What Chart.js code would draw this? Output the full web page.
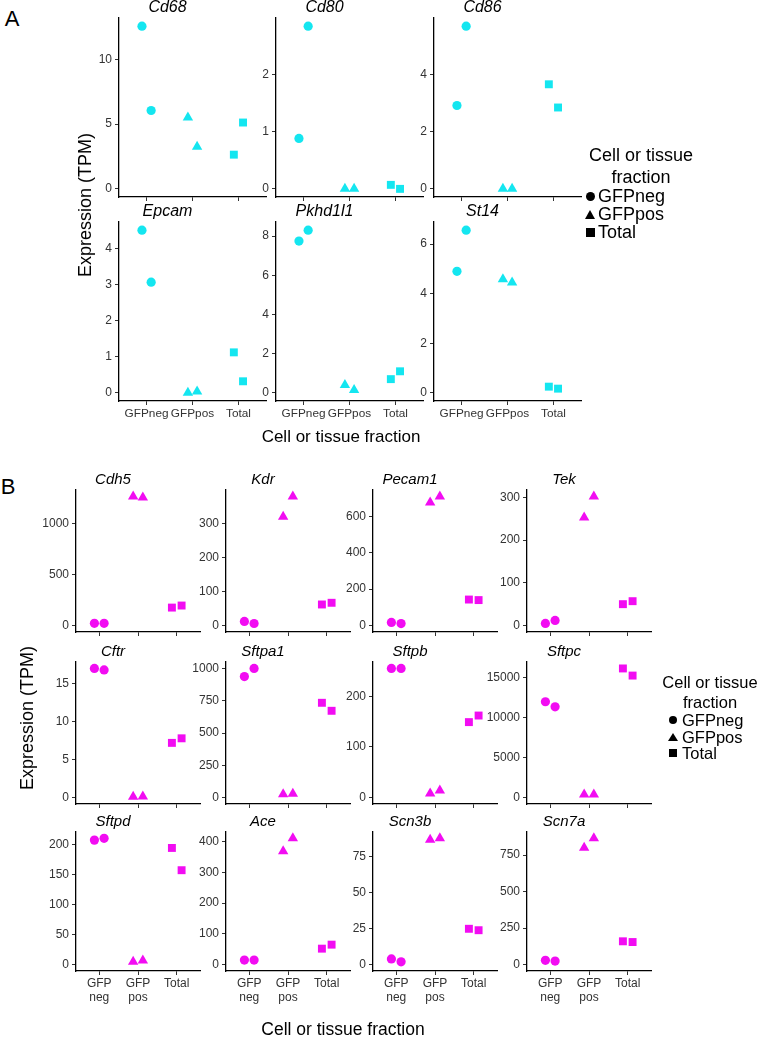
<!DOCTYPE html>
<html lang="en">
<head>
<meta charset="UTF-8" />
<title>Expression by cell or tissue fraction</title>
<script src="https://cdn.jsdelivr.net/npm/chart.js"></script>
<style>
  body { margin: 0; width: 758px; height: 1038px; position: relative; overflow: hidden; background: #fff;
         font-family: "Liberation Sans", Arial, Helvetica, sans-serif; color: #000; }
  canvas { position: absolute; }
  .t { position: absolute; white-space: nowrap; line-height: 1; }
  .sym { position: absolute; }
</style>
</head>
<body>
<script>
  const categories = ['GFPneg', 'GFPpos', 'Total'];
  const categoriesB = [['GFP', 'neg'], ['GFP', 'pos'], 'Total'];

  // panel A, two replicates per fraction (left, right)
  const genesA = ['Cd68', 'Cd80', 'Cd86', 'Epcam', 'Pkhd1l1', 'St14'];
  const negA = [[12.56, 6.05], [0.88, 2.84], [2.91, 5.68], [4.5, 3.06], [7.74, 8.3], [4.9, 6.56]];
  const posA = [[5.5, 3.26], [0, 0], [0, 0], [0, 0.04], [0.4, 0.15], [4.58, 4.45]];
  const totA = [[2.64, 5.12], [0.07, 0], [3.65, 2.84], [1.12, 0.32], [0.7, 1.1], [0.25, 0.17]];
  const ticksA = [[0, 5, 10], [0, 1, 2], [0, 2, 4], [0, 1, 2, 3, 4], [0, 2, 4, 6, 8], [0, 2, 4, 6]];

  // panel B
  const genesB = ['Cdh5', 'Kdr', 'Pecam1', 'Tek', 'Cftr', 'Sftpa1', 'Sftpb', 'Sftpc', 'Sftpd', 'Ace', 'Scn3b', 'Scn7a'];
  const negB = [[22, 22], [12, 6], [17, 11], [5, 12], [17.0, 16.8], [937, 1000], [255, 255], [11970, 11330],
                [207, 210], [15, 15], [4, 2], [30, 25]];
  const posB = [[1265, 1255], [320, 380], [677, 710], [253, 302], [0.1, 0.15], [25, 30], [8, 14], [380, 380],
                [5, 7], [368, 410], [87, 88], [800, 865]];
  const totB = [[176, 196], [62, 67], [143, 140], [50, 57], [7.2, 7.8], [734, 672], [149, 162], [16130, 15240],
                [194, 157], [52, 65], [25, 24], [160, 155]];
  const ticksB = [[0, 500, 1000], [0, 100, 200, 300], [0, 200, 400, 600], [0, 100, 200, 300],
                  [0, 5, 10, 15], [0, 250, 500, 750, 1000], [0, 100, 200], [0, 5000, 10000, 15000],
                  [0, 50, 100, 150, 200], [0, 100, 200, 300, 400], [0, 25, 50, 75], [0, 250, 500, 750]];

  const CYAN = '#14e6f0';
  const MAGENTA = '#f20cf2';
  const FONT = 'Liberation Sans';

  function pts(vals, ci, jit) {
    return vals.map((v, r) => ({ x: ci + 1 + (r === 0 ? -jit : jit), y: v }));
  }

  function panel(o) {
    const YW = 50, TH = 20, XH = 40;
    const cv = document.createElement('canvas');
    cv.width = o.w + 2 * YW;
    cv.height = TH + o.h + XH;
    cv.style.left = (o.left - YW) + 'px';
    cv.style.top = (o.top - TH) + 'px';
    document.body.appendChild(cv);

    const hi = Math.max(...o.neg, ...o.pos, ...o.tot, 0);
    const tickFont = { family: FONT, size: 12 };
    const grid = { drawOnChartArea: false, drawTicks: true, tickLength: 4, color: '#333', lineWidth: 1 };
    const border = { display: true, color: '#000', width: 1.3 };
    const ds = (data, style, r) => ({ data, pointStyle: style, pointRadius: r, pointHoverRadius: r,
      backgroundColor: o.color, borderWidth: 0, clip: false });

    new Chart(cv, {
      type: 'scatter',
      data: { datasets: [
        ds(pts(o.neg, 0, o.jit), 'circle', 4.6),
        ds(pts(o.pos, 1, o.jit), 'triangle', 6),
        ds(pts(o.tot, 2, o.jit), 'rect', 5.6)
      ] },
      options: {
        responsive: false, animation: false, events: [],
        layout: { padding: { right: YW } },
        plugins: {
          legend: { display: false }, tooltip: { enabled: false },
          title: { display: true, text: o.title, color: '#000', padding: 0,
                   font: { family: FONT, size: o.titleSize, style: 'italic', weight: 'normal', lineHeight: '20px' } }
        },
        scales: {
          x: { type: 'linear', min: 0.4, max: 3.6,
               afterBuildTicks: s => { s.ticks = [1, 2, 3].map(v => ({ value: v })); },
               afterFit: s => { s.height = XH; },
               ticks: { callback: (v, i) => o.xLabels ? o.xLabels[i] : '', font: o.xFont || tickFont,
                        color: '#333', padding: 2, maxRotation: 0, autoSkip: false },
               grid, border },
          y: { min: -0.05 * hi, max: 1.05 * hi,
               afterBuildTicks: s => { s.ticks = o.ticks.map(v => ({ value: v })); },
               afterFit: s => { s.width = YW; },
               ticks: { callback: v => String(v), font: tickFont, color: '#333', padding: 3 },
               grid, border }
        }
      }
    });
  }

  function text(str, x, y, o = {}) {
    const d = document.createElement('div');
    d.className = 't';
    d.textContent = str;
    d.style.left = x + 'px';
    d.style.top = y + 'px';
    d.style.fontSize = (o.size || 16) + 'px';
    const tx = o.align === 'left' ? '0' : '-50%';
    d.style.transform = `translate(${tx}, -50%)` + (o.rotate ? ' rotate(-90deg)' : '');
    document.body.appendChild(d);
  }

  function symbol(kind, cx, cy, s) {
    const d = document.createElement('div');
    d.className = 'sym';
    if (kind === 'triangle') {
      d.style.left = (cx - s / 2 - 1) + 'px';
      d.style.top = (cy - s / 2) + 'px';
      d.style.borderLeft = (s / 2 + 1) + 'px solid transparent';
      d.style.borderRight = (s / 2 + 1) + 'px solid transparent';
      d.style.borderBottom = s + 'px solid #000';
    } else {
      d.style.left = (cx - s / 2) + 'px';
      d.style.top = (cy - s / 2) + 'px';
      d.style.width = s + 'px';
      d.style.height = s + 'px';
      d.style.background = '#000';
      if (kind === 'circle') d.style.borderRadius = '50%';
    }
    document.body.appendChild(d);
  }

  function legend(x, yTitle, yItems, size, symX, textX) {
    text('Cell or tissue', x, yTitle, { size });
    text('fraction', x, yTitle + size * 1.2, { size });
    ['circle', 'triangle', 'square'].forEach((k, i) => {
      symbol(k, symX, yItems[i], Math.min(size * 0.5, 9));
      text(categories[i], textX, yItems[i], { size, align: 'left' });
    });
  }

  // panel A layout
  const colsA = [119, 276, 434], rowsA = [18, 222];
  genesA.forEach((g, i) => {
    const r = Math.floor(i / 3), c = i % 3;
    panel({ title: g, titleSize: 16, left: colsA[c], top: rowsA[r], w: 147, h: 179, jit: 0.1,
            neg: negA[i], pos: posA[i], tot: totA[i], ticks: ticksA[i], color: CYAN,
            xLabels: r === 1 ? categories : null, xFont: { family: FONT, size: 11.8 } });
  });

  // panel B layout
  const colsB = [76, 226, 373, 527], rowsB = [490, 662, 832];
  genesB.forEach((g, i) => {
    const r = Math.floor(i / 4), c = i % 4;
    panel({ title: g, titleSize: 15, left: colsB[c], top: rowsB[r], w: 124, h: r === 2 ? 139 : 142, jit: 0.125,
            neg: negB[i], pos: posB[i], tot: totB[i], ticks: ticksB[i], color: MAGENTA,
            xLabels: r === 2 ? categoriesB : null, xFont: { family: FONT, size: 12, lineHeight: 1.15 } });
  });

  text('A', 12, 19, { size: 22 });
  text('B', 8, 487, { size: 22 });
  text('Expression (TPM)', 85, 205, { size: 18, rotate: true });
  text('Expression (TPM)', 27, 718, { size: 18, rotate: true });
  text('Cell or tissue fraction', 341, 436, { size: 17 });
  text('Cell or tissue fraction', 343, 1030, { size: 17.5 });
  legend(641, 155, [196, 214, 232], 18, 590, 598);
  legend(710, 682, [720, 737, 753], 16.5, 673, 682);
</script>
</body>
</html>
